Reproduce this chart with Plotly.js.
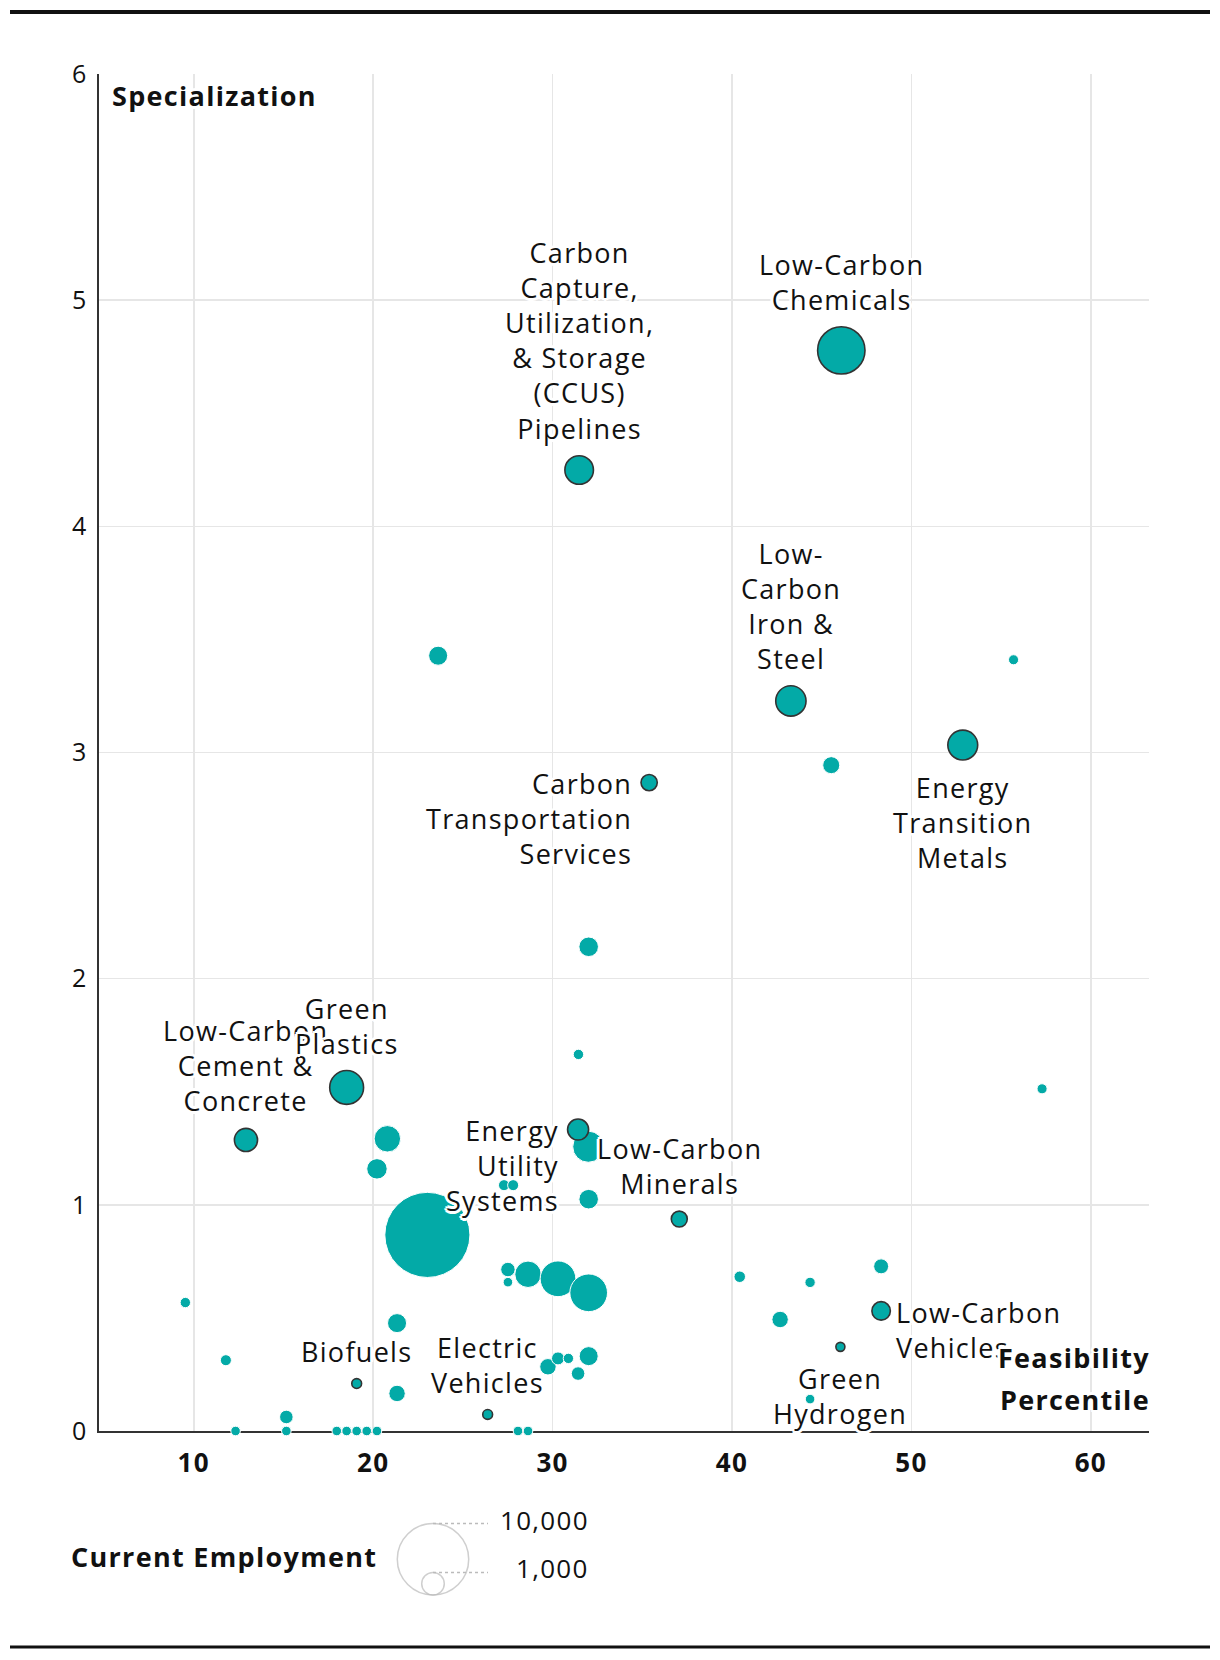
<!DOCTYPE html>
<html>
<head>
<meta charset="utf-8">
<script src="https://cdn.plot.ly/plotly-3.0.1.min.js"></script>
<style>
html,body{margin:0;padding:0;background:#fff}
#chart{width:1220px;height:1660px}
svg text{letter-spacing:1.3px}
</style>
</head>
<body>
<div id="chart"></div>
<script>
// ---------------- DATA ----------------
const feasibility = [
  46.09, 31.48, 43.28, 52.86, 35.38, 18.52, 12.91, 31.42, 37.06, 19.08, 26.38, 48.31, 46.04,
  55.69, 45.53, 23.62, 32.01, 31.44, 57.28, 20.79, 20.21, 31.99, 27.29, 27.80, 32.01, 23.02,
  27.51, 27.51, 28.63, 30.30, 32.01, 9.53, 11.79, 21.33, 21.33, 15.16, 29.74, 30.30, 30.88,
  32.01, 31.42, 12.33, 15.16, 17.97, 18.52, 19.08, 19.64, 20.21, 28.07, 28.63, 40.43, 44.35,
  48.31, 42.68, 44.35
];
const specialization = [
  4.778, 4.249, 3.228, 3.033, 2.867, 1.519, 1.287, 1.333, 0.937, 0.210, 0.073, 0.531, 0.372,
  3.410, 2.944, 3.428, 2.141, 1.665, 1.513, 1.292, 1.159, 1.257, 1.087, 1.087, 1.025, 0.867,
  0.714, 0.658, 0.693, 0.673, 0.611, 0.568, 0.313, 0.477, 0.166, 0.062, 0.284, 0.321, 0.321,
  0.331, 0.254, 0, 0, 0, 0, 0, 0, 0, 0, 0, 0.682, 0.657,
  0.728, 0.493, 0.141
];
const employment = [
  4400, 1600, 1800, 1750, 520, 2250, 1050, 870, 500, 190, 190, 670, 160,
  200, 570, 710, 750, 210, 200, 1370, 820, 1900, 240, 240, 750, 14200,
  410, 180, 1370, 2500, 2780, 210, 240, 710, 530, 360, 530, 330, 210,
  710, 360, 180, 180, 180, 180, 180, 180, 180, 180, 180, 260, 210,
  440, 530, 180
];
const industryLabels = [
  "Low-Carbon<br>Chemicals",
  "Carbon<br>Capture,<br>Utilization,<br>& Storage<br>(CCUS)<br>Pipelines",
  "Low-<br>Carbon<br>Iron &<br>Steel",
  "Energy<br>Transition<br>Metals",
  "Carbon<br>Transportation<br>Services",
  "Green<br>Plastics",
  "Low-Carbon<br>Cement &<br>Concrete",
  "Energy<br>Utility<br>Systems",
  "Low-Carbon<br>Minerals",
  "Biofuels",
  "Electric<br>Vehicles",
  "Low-Carbon<br>Vehicles",
  "Green<br>Hydrogen"
];
const xTicks = [10, 20, 30, 40, 50, 60];
const yTicks = [0, 1, 2, 3, 4, 5, 6];
const legendEmployment = [10000, 1000];
const legendLabels = ["10,000", "1,000"];

// ---------------- STYLE ----------------
const W = 1220, H = 1660;
const PL = 98.5, PR = 1149, PT = 74, PB = 1431;
const FONT = '"Open Sans", "Noto Sans", Lato, sans-serif';
const TEAL = '#03aaa7';
const INK = '#111';
const SIZEREF = 3.92;
const HALO = '-2px -2px 0 #fff, 2px -2px 0 #fff, -2px 2px 0 #fff, 2px 2px 0 #fff, 0 -3px 0 #fff, 0 3px 0 #fff, -3px 0 0 #fff, 3px 0 0 #fff';
const LABEL_SIZE = 27;
// label placement relative to its bubble (order = draw order)
const placement = {
  0: 'above', 1: 'above', 2: 'above', 3: 'below', 4: 'left', 6: 'above', 5: 'above',
  7: 'left', 8: 'above', 9: 'above', 10: 'above', 11: 'right', 12: 'below'
};
const labelOrder = [0, 1, 2, 3, 4, 6, 5, 7, 8, 9, 10, 11, 12];
const radius = v => Math.sqrt(v / (2 * SIZEREF));

const nLab = industryLabels.length;
const idxLab = [...Array(nLab).keys()];
const idxUn = [...Array(feasibility.length).keys()].slice(nLab);

const traces = [
  {
    type: 'scatter', mode: 'markers', cliponaxis: false, hoverinfo: 'skip',
    x: idxUn.map(i => feasibility[i]), y: idxUn.map(i => specialization[i]),
    marker: { size: idxUn.map(i => employment[i]), sizemode: 'area', sizeref: SIZEREF,
      color: TEAL, opacity: 1, line: { color: '#fff', width: 1 } }
  },
  {
    type: 'scatter', mode: 'markers', cliponaxis: false, hoverinfo: 'skip',
    x: idxLab.map(i => feasibility[i]), y: idxLab.map(i => specialization[i]),
    marker: { size: idxLab.map(i => employment[i]), sizemode: 'area', sizeref: SIZEREF,
      color: TEAL, opacity: 1, line: { color: '#333', width: 1.6 } }
  },
  {
    type: 'scatter', mode: 'markers', xaxis: 'x2', yaxis: 'y2', cliponaxis: false, hoverinfo: 'skip',
    x: legendEmployment.map(() => 433), y: legendEmployment.map(v => 1595 - radius(v)),
    marker: { size: legendEmployment, sizemode: 'area', sizeref: SIZEREF,
      color: 'rgba(0,0,0,0)', line: { color: '#bbb', width: 1.5 } }
  }
];

const annotations = [];
labelOrder.forEach(i => {
  const r = radius(employment[i]);
  const p = placement[i];
  const a = {
    x: feasibility[i], y: specialization[i], xref: 'x', yref: 'y', text: industryLabels[i],
    showarrow: false, font: { family: FONT, size: LABEL_SIZE, color: INK, shadow: HALO },
    borderpad: 0
  };
  if (p === 'above') { a.xanchor = 'center'; a.yanchor = 'bottom'; a.align = 'center'; a.yshift = r + 8; }
  if (p === 'below') { a.xanchor = 'center'; a.yanchor = 'top'; a.align = 'center'; a.yshift = -(r + 8); }
  if (p === 'left') { a.xanchor = 'right'; a.yanchor = 'top'; a.align = 'right'; a.xshift = -(r + 8); a.yshift = 19; }
  if (p === 'right') { a.xanchor = 'left'; a.yanchor = 'top'; a.align = 'left'; a.xshift = r + 5; a.yshift = 18; }
  annotations.push(a);
});

const boldFont = s => ({ family: FONT, size: s, color: INK, weight: 'bold', shadow: HALO });
annotations.push(
  { xref: 'x domain', yref: 'y domain', x: (110 - PL) / (PR - PL), y: (PB - 95) / (PB - PT),
    xanchor: 'left', yanchor: 'middle', text: 'Specialization', showarrow: false, font: boldFont(27) },
  { xref: 'x domain', yref: 'y domain', x: 1, y: (PB - 1357) / (PB - PT), xshift: 3,
    xanchor: 'right', yanchor: 'middle', text: 'Feasibility', showarrow: false, font: boldFont(27) },
  { xref: 'x domain', yref: 'y domain', x: 1, y: (PB - 1399) / (PB - PT), xshift: 3,
    xanchor: 'right', yanchor: 'middle', text: 'Percentile', showarrow: false, font: boldFont(27) },
  { xref: 'paper', yref: 'paper', x: 69 / W, y: 1 - 1556 / H,
    xanchor: 'left', yanchor: 'middle', text: 'Current Employment', showarrow: false,
    font: { family: FONT, size: 27, color: INK, weight: 'bold' } }
);
legendEmployment.forEach((v, k) => {
  annotations.push({ xref: 'x2', yref: 'y2', x: 591, y: 1595 - 2 * radius(v) - 4,
    xanchor: 'right', yanchor: 'middle', text: legendLabels[k], showarrow: false,
    font: { family: FONT, size: 26, color: INK } });
});

const shapes = [
  { type: 'line', xref: 'paper', yref: 'paper', x0: 10 / W, x1: 1210 / W, y0: 1 - 12 / H, y1: 1 - 12 / H,
    line: { color: INK, width: 4 } },
  { type: 'line', xref: 'paper', yref: 'paper', x0: 10 / W, x1: 1210 / W, y0: 1 - 1647 / H, y1: 1 - 1647 / H,
    line: { color: INK, width: 3 } }
];
legendEmployment.forEach(v => {
  const yt = 1595 - 2 * radius(v);
  shapes.push({ type: 'line', xref: 'x2', yref: 'y2', x0: 433, x1: 488, y0: yt, y1: yt,
    line: { color: '#bbb', width: 1.5, dash: 'dot' } });
});

const layout = {
  width: W, height: H, margin: { l: 0, r: 0, t: 0, b: 0 },
  paper_bgcolor: '#fff', plot_bgcolor: '#fff', showlegend: false,
  font: { family: FONT, color: INK },
  xaxis: {
    domain: [PL / W, PR / W], range: [4.69, 63.24], tickvals: xTicks, ticktext: xTicks.map(String),
    showgrid: true, gridcolor: '#e6e6e6', gridwidth: 1.5, zeroline: false,
    showline: true, linecolor: '#333', linewidth: 2, ticks: '', ticklabelstandoff: 8,
    tickfont: { family: FONT, size: 26, color: INK, weight: 'bold' }, layer: 'below traces', fixedrange: true
  },
  yaxis: {
    domain: [1 - PB / H, 1 - PT / H], range: [0, 6], tickvals: yTicks, ticktext: yTicks.map(String),
    showgrid: true, gridcolor: '#e6e6e6', gridwidth: 1.5, zeroline: false,
    showline: true, linecolor: '#333', linewidth: 2, ticks: '', ticklabelstandoff: 4,
    tickfont: { family: FONT, size: 25, color: INK }, layer: 'below traces', fixedrange: true
  },
  xaxis2: { domain: [380 / W, 600 / W], range: [380, 600], visible: false, anchor: 'y2', fixedrange: true },
  yaxis2: { domain: [1 - 1610 / H, 1 - 1500 / H], range: [1610, 1500], visible: false, anchor: 'x2', fixedrange: true },
  shapes: shapes,
  annotations: annotations
};

Plotly.newPlot('chart', traces, layout, { staticPlot: true, displayModeBar: false });
</script>
</body>
</html>
